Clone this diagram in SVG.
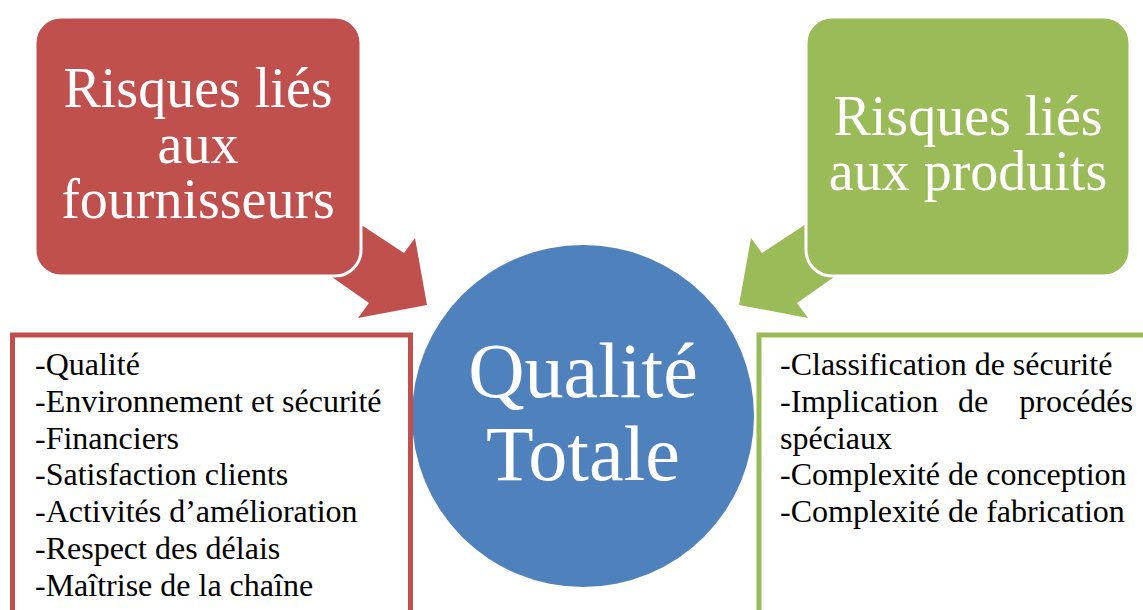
<svg xmlns="http://www.w3.org/2000/svg" width="1143" height="610" viewBox="0 0 1143 610">
<defs>
<style>
.head{fill:#ffffff;text-anchor:middle}
.list{font-size:32px;fill:#000000}
.box{stroke:#ffffff;stroke-width:3}
</style>
</defs>
<rect width="1143" height="610" fill="#ffffff"/>
<g id="connectors">
<polygon points="290,178 404,253 415,238 427,305 358,318 369,303 279,240" fill="#C0504D"/>
<polygon points="876,178 762,253 751,238 739,305 808,318 797,303 887,240" fill="#9BBB59"/>
</g>
<g id="node-fournisseurs" font-family="Liberation Serif, DejaVu Serif, serif">
<rect class="box" x="35" y="17" width="326" height="259" rx="26" fill="#C0504D"/>
<text class="head" font-size="56" x="198" y="107">Risques liés<tspan x="198" dy="56">aux</tspan><tspan x="198" dy="55">fournisseurs</tspan></text>
</g>
<g id="node-produits" font-family="Liberation Serif, DejaVu Serif, serif">
<rect class="box" x="806" y="17" width="324" height="259" rx="26" fill="#9BBB59"/>
<text class="head" font-size="56" x="968" y="135">Risques liés<tspan x="968" dy="55">aux produits</tspan></text>
</g>
<g id="node-qualite" font-family="Liberation Serif, DejaVu Serif, serif">
<circle cx="583" cy="416" r="171" fill="#4F81BD"/>
<text class="head" font-size="78" x="583" y="397">Qualité<tspan x="583" dy="83">Totale</tspan></text>
</g>
<g id="node-liste-fournisseurs" font-family="Liberation Serif, DejaVu Serif, serif">
<rect x="12.5" y="335" width="398" height="300" fill="none" stroke="#C0504D" stroke-width="5"/>
<text class="list" x="35" y="375">-Qualité</text>
<text class="list" x="35" y="412">-Environnement et sécurité</text>
<text class="list" x="35" y="449">-Financiers</text>
<text class="list" x="35" y="485">-Satisfaction clients</text>
<text class="list" x="35" y="522">-Activités d’amélioration</text>
<text class="list" x="35" y="559">-Respect des délais</text>
<text class="list" x="35" y="596">-Maîtrise de la chaîne</text>
</g>
<g id="node-liste-produits" font-family="Liberation Serif, DejaVu Serif, serif">
<rect x="759" y="335" width="420" height="300" fill="none" stroke="#9BBB59" stroke-width="5"/>
<text class="list" x="780" y="375">-Classification de sécurité</text>
<text class="list" x="780" y="412">-Implication</text>
<text class="list" x="958" y="412">de</text>
<text class="list" x="1133" y="412" text-anchor="end">procédés</text>
<text class="list" x="780" y="449">spéciaux</text>
<text class="list" x="780" y="485">-Complexité de conception</text>
<text class="list" x="780" y="522">-Complexité de fabrication</text>
</g>
</svg>
